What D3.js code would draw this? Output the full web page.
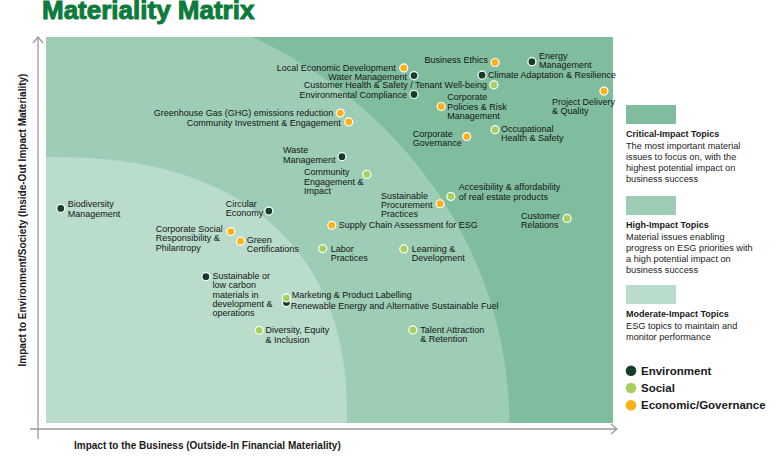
<!DOCTYPE html>
<html>
<head>
<meta charset="utf-8">
<script src="https://cdn.jsdelivr.net/npm/d3@7"></script>
<style>
  body { margin: 0; background: #fff; }
  svg { display: block; font-family: "Liberation Sans", Arial, sans-serif; }
</style>
</head>
<body>
<svg id="chart" width="776" height="456"></svg>
<script>
// topics (line breaks = "\n"), scored 0-10 on both axes
const topics = [
  "Local Economic Development", "Water Management", "Customer Health & Safety / Tenant Well-being",
  "Environmental Compliance", "Business Ethics", "Energy\nManagement", "Climate Adaptation & Resilience",
  "Corporate\nPolicies & Risk\nManagement", "Project Delivery\n& Quality",
  "Greenhouse Gas (GHG) emissions reduction", "Community Investment & Engagement",
  "Corporate\nGovernance", "Occupational\nHealth & Safety", "Waste\nManagement",
  "Community\nEngagement &\nImpact", "Accesibility & affordability\nof real estate products",
  "Sustainable\nProcurement\nPractices", "Customer\nRelations", "Circular\nEconomy",
  "Supply Chain Assessment for ESG", "Corporate Social\nResponsibility &\nPhilantropy",
  "Green\nCertifications", "Labor\nPractices", "Learning &\nDevelopment", "Biodiversity\nManagement",
  "Sustainable or\nlow carbon\nmaterials in\ndevelopment &\noperations",
  "Renewable Energy and Alternative Sustainable Fuel", "Marketing & Product Labelling",
  "Diversity, Equity\n& Inclusion", "Talent Attraction\n& Retention"
];
const businessImpact = [6.31, 6.49, 7.90, 6.49, 7.92, 8.57, 7.69, 6.97, 9.84, 5.19, 5.34, 7.42, 7.92, 5.22,
  5.66, 7.14, 6.95, 9.19, 3.93, 5.04, 3.26, 3.43, 4.88, 6.31, 0.26, 2.82, 4.24, 4.24, 3.76, 6.47];
const societyImpact = [9.20, 9.00, 8.76, 8.51, 9.34, 9.36, 9.01, 8.20, 8.60, 8.03, 7.80, 7.42, 7.60, 6.90,
  6.44, 5.87, 5.68, 5.30, 5.49, 5.12, 4.96, 4.71, 4.52, 4.51, 5.56, 3.79, 3.12, 3.24, 2.40, 2.41];
const pillar = ["eco", "env", "soc", "env", "eco", "env", "env", "eco", "eco", "eco", "eco", "eco", "soc", "env",
  "soc", "soc", "eco", "soc", "env", "eco", "eco", "eco", "soc", "soc", "env", "env", "env", "soc", "soc", "soc"];

const pillarNames = ["Environment", "Social", "Economic/Governance"];
const pillarKeys = ["env", "soc", "eco"];

const zoneNames = ["Critical-Impact Topics", "High-Impact Topics", "Moderate-Impact Topics"];
const zoneText = [
  ["The most important material", "issues to focus on, with the", "highest potential impact on", "business success"],
  ["Material issues enabling", "progress on ESG priorities with", "a high potential impact on", "business success"],
  ["ESG topics to maintain and", "monitor performance"]
];

// label placement: [anchor, dx, dy] relative to the dot (layout only)
const labelPos = [
  ["end", -8, 0], ["end", -7, 1.5], ["end", -7, 0], ["end", -7, 0], ["end", -7, -2], ["start", 7, -5.5],
  ["start", 6, 0], ["start", 6, -9], ["start", -52, 10.5], ["end", -7, 0], ["end", -8, 1.5],
  ["start", -54, -3], ["start", 6, -0.5], ["start", -59, -6.3], ["start", -63, -2], ["start", 8, -9],
  ["start", -59, -8], ["start", -46, -2.3], ["start", -43, -7], ["start", 7, 0], ["start", -75, -2.3],
  ["start", 6.3, -1], ["start", 8, 0], ["start", 8, 0], ["start", 7, -4], ["start", 6.6, -0.6],
  ["start", 4.4, 3.4], ["start", 5.4, -3], ["start", 6.3, 0], ["start", 7.3, 0]
];

const color = { env: "#143d2c", soc: "#a6cf5b", eco: "#fbb117" };
const zoneColor = ["#80bd9f", "#9dcdb4", "#badccb"];

const svg = d3.select("#chart");
const x = d3.scaleLinear().domain([0, 10]).range([46, 613]);
const y = d3.scaleLinear().domain([0, 10]).range([423, 37]);

// title
svg.append("text")
  .attr("x", 42).attr("y", 18.5)
  .attr("font-size", 26).attr("font-weight", "bold")
  .attr("fill", "#0c7b3b").attr("stroke", "#0c7b3b").attr("stroke-width", 1)
  .text("Materiality Matrix");

// zones
svg.append("clipPath").attr("id", "plot")
  .append("rect").attr("x", x(0)).attr("y", y(10))
  .attr("width", x(10) - x(0)).attr("height", y(0) - y(10));

const g = svg.append("g").attr("clip-path", "url(#plot)");
g.append("rect").attr("x", x(0)).attr("y", y(10))
  .attr("width", x(10) - x(0)).attr("height", y(0) - y(10)).attr("fill", zoneColor[0]);

// superellipse around the origin, radii in data units
function zone(rx, ry, n) {
  const pts = [[0, 0]];
  for (let i = 0; i <= 90; i++) {
    const t = i / 90 * Math.PI / 2;
    pts.push([rx * Math.pow(Math.cos(t), 2 / n), ry * Math.pow(Math.sin(t), 2 / n)]);
  }
  return d3.line().x(d => x(d[0])).y(d => y(d[1]))(pts) + "Z";
}
g.append("path").attr("d", zone(8.17, 11.17, 2)).attr("fill", zoneColor[1]);
g.append("path").attr("d", zone(5.31, 6.89, 2.4)).attr("fill", zoneColor[2]);

// axes
const axis = svg.append("g").attr("stroke", "#9a9a9a").attr("stroke-width", 1.3).attr("fill", "none");
axis.append("line").attr("x1", 38).attr("x2", 38).attr("y1", 439).attr("y2", 37);
axis.append("polyline").attr("points", "33,43 38,37 43,43");
axis.append("line").attr("x1", 30).attr("x2", 617).attr("y1", 429).attr("y2", 429);
axis.append("polyline").attr("points", "611,424 617,429 611,434");

svg.append("text")
  .attr("x", 74).attr("y", 449)
  .attr("font-size", 10).attr("font-weight", "bold").attr("fill", "#1a1a1a")
  .text("Impact to the Business (Outside-In Financial Materiality)");
svg.append("text")
  .attr("transform", "translate(26,220) rotate(-90)")
  .attr("text-anchor", "middle")
  .attr("font-size", 10).attr("font-weight", "bold").attr("fill", "#1a1a1a")
  .text("Impact to Environment/Society (Inside-Out Impact Materiality)");

// points
const data = topics.map((t, i) => ({
  name: t, bx: businessImpact[i], sy: societyImpact[i], p: pillar[i], pos: labelPos[i]
}));

const pts = svg.append("g");
data.forEach(d => {
  const cx = x(d.bx), cy = y(d.sy);
  pts.append("circle")
    .attr("cx", cx).attr("cy", cy).attr("r", 4)
    .attr("fill", color[d.p]).attr("stroke", "#fff").attr("stroke-width", 1.2);
  const txt = pts.append("text")
    .attr("x", cx + d.pos[1]).attr("y", cy + d.pos[2] + 3)
    .attr("text-anchor", d.pos[0])
    .attr("font-size", 9).attr("fill", "#141414");
  d.name.split("\n").forEach((line, k) => {
    txt.append("tspan").attr("x", cx + d.pos[1]).attr("dy", k ? 9.2 : 0).text(line);
  });
});

// legend
const leg = svg.append("g").attr("transform", "translate(626,0)");
const zoneTop = [105, 196, 285];
zoneNames.forEach((n, i) => {
  leg.append("rect").attr("x", 0).attr("y", zoneTop[i]).attr("width", 50).attr("height", 19)
    .attr("fill", zoneColor[i]);
  leg.append("text").attr("x", 0).attr("y", zoneTop[i] + 32)
    .attr("font-size", 9).attr("font-weight", "bold").attr("fill", "#1a1a1a").text(n);
  zoneText[i].forEach((line, k) => {
    leg.append("text").attr("x", 0).attr("y", zoneTop[i] + 43.5 + k * 11.3)
      .attr("font-size", 9.2).attr("fill", "#222").text(line);
  });
});
pillarNames.forEach((n, i) => {
  const cy = 370.7 + i * 17.3;
  leg.append("circle").attr("cx", 5).attr("cy", cy).attr("r", 5.3).attr("fill", color[pillarKeys[i]]);
  leg.append("text").attr("x", 15).attr("y", cy + 4)
    .attr("font-size", 11.5).attr("font-weight", "bold").attr("fill", "#1a1a1a").text(n);
});
</script>
</body>
</html>
